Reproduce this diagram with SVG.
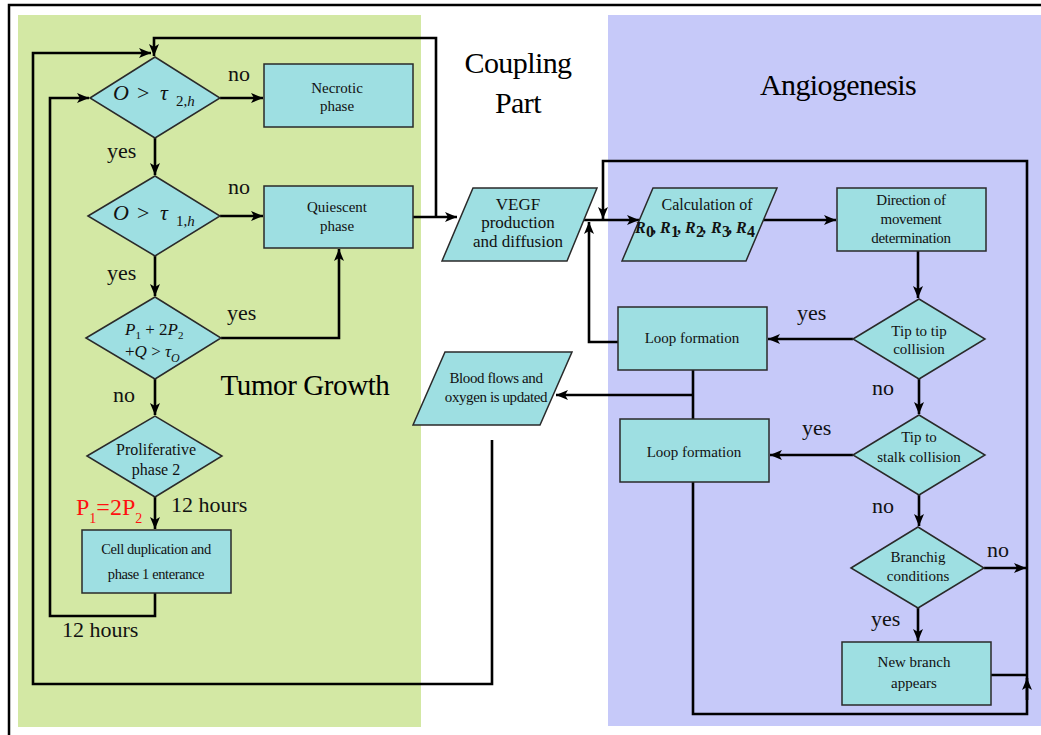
<svg xmlns="http://www.w3.org/2000/svg" width="1041" height="735" viewBox="0 0 1041 735">
<defs>
<style>
.bg{stroke:none}
.box{fill:#9EDFE2;stroke:#2a2a2a;stroke-width:1.5}
.c{fill:none;stroke:#000;stroke-width:2.6}
.t{font-family:"Liberation Serif","Times New Roman",serif;fill:#111;text-anchor:middle}
.bt{font-size:15px}
.lb{font-family:"Liberation Serif","Times New Roman",serif;font-size:22px;fill:#111}
.m{font-family:"Liberation Serif","Times New Roman",serif;fill:#111;font-style:italic}
.h{font-family:"Liberation Serif","Times New Roman",serif;fill:#000;text-anchor:middle}
.r{font-family:"Liberation Serif","Times New Roman",serif;font-size:16px;font-weight:bold;fill:#111}
</style>
<marker id="a" markerUnits="userSpaceOnUse" markerWidth="13" markerHeight="11" refX="12" refY="5" orient="auto">
<path d="M0,0 L12,5 L0,10 L3,5 Z" fill="#000"/>
</marker>
</defs>
<rect width="1041" height="735" fill="#fff"/>
<rect class="bg" x="18" y="15" width="403" height="712" fill="#D3E8A4"/>
<rect class="bg" x="608" y="15" width="433" height="711" fill="#C6C9F9"/>
<rect x="9" y="5" width="1040" height="740" fill="none" stroke="#000" stroke-width="2.5"/>

<g id="headers">
<text class="h" x="518" y="73" font-size="30" letter-spacing="-0.6">Coupling</text>
<text class="h" x="518" y="113" font-size="30" letter-spacing="-0.6">Part</text>
<text class="h" x="838" y="95" font-size="30" letter-spacing="-0.6">Angiogenesis</text>
<text class="h" x="305" y="395" font-size="29" letter-spacing="-0.4">Tumor Growth</text>
</g>

<g id="connectors">
<path class="c" d="M413,217 H457" marker-end="url(#a)"/>
<path class="c" d="M436,217 V38 H154 V56" marker-end="url(#a)"/>
<path class="c" d="M492,440 V684 H33 V53 H151" marker-end="url(#a)"/>
<path class="c" d="M220,98 H263" marker-end="url(#a)"/>
<path class="c" d="M155,138 V175" marker-end="url(#a)"/>
<path class="c" d="M220,216 H263" marker-end="url(#a)"/>
<path class="c" d="M155,256 V296" marker-end="url(#a)"/>
<path class="c" d="M221,338 H339 V249" marker-end="url(#a)"/>
<path class="c" d="M155,379 V415" marker-end="url(#a)"/>
<path class="c" d="M155,497 V529" marker-end="url(#a)"/>
<path class="c" d="M155,593 V616 H50 V98 H89" marker-end="url(#a)"/>
<path class="c" d="M582,220 H639" marker-end="url(#a)"/>
<path class="c" d="M693,482 V714 H1027 V161 H603 V219" marker-end="url(#a)"/>
<path class="c" d="M618,342 H589 V222" marker-end="url(#a)"/>
<path class="c" d="M693,370 V419"/>
<path class="c" d="M693,395 H556" marker-end="url(#a)"/>
<path class="c" d="M763,220 H836" marker-end="url(#a)"/>
<path class="c" d="M918,251 V298" marker-end="url(#a)"/>
<path class="c" d="M853,339 H768" marker-end="url(#a)"/>
<path class="c" d="M919,379 V414" marker-end="url(#a)"/>
<path class="c" d="M853,455 H770" marker-end="url(#a)"/>
<path class="c" d="M919,495 V526" marker-end="url(#a)"/>
<path class="c" d="M984,568 H1026" marker-end="url(#a)"/>
<path class="c" d="M918,608 V641" marker-end="url(#a)"/>
<path class="c" d="M991,675 H1027"/>
<path class="c" d="M1027,700 V678" marker-end="url(#a)"/>
</g>

<g id="labels">
<text class="lb" x="228" y="81">no</text>
<text class="lb" x="107" y="158">yes</text>
<text class="lb" x="228" y="194">no</text>
<text class="lb" x="107" y="280">yes</text>
<text class="lb" x="227" y="320">yes</text>
<text class="lb" x="113" y="402">no</text>
<text class="lb" x="171" y="512" font-size="19.5">12 hours</text>
<text class="lb" x="62" y="637" font-size="19.5">12 hours</text>
<text x="76" y="515" font-family="Liberation Serif, Times New Roman, serif" font-size="24" fill="#FF1010">P<tspan font-size="14" dy="8">1</tspan><tspan dy="-8">=2P</tspan><tspan font-size="14" dy="8">2</tspan></text>
<text class="lb" x="797" y="320">yes</text>
<text class="lb" x="872" y="395">no</text>
<text class="lb" x="802" y="435">yes</text>
<text class="lb" x="872" y="513">no</text>
<text class="lb" x="987" y="557">no</text>
<text class="lb" x="871" y="626">yes</text>
</g>

<g id="d1">
<polygon class="box" points="90,98 155,57 220,98 155,138"/>
<text class="m" y="100" font-size="22"><tspan x="113">O</tspan><tspan x="137" font-style="normal">&gt;</tspan><tspan x="160">τ</tspan><tspan x="176" dy="6" font-size="15"><tspan font-style="normal">2,</tspan>h</tspan></text>
</g>
<g id="d2">
<polygon class="box" points="88,216 155,176 220,216 155,256"/>
<text class="m" y="220" font-size="22"><tspan x="113">O</tspan><tspan x="137" font-style="normal">&gt;</tspan><tspan x="160">τ</tspan><tspan x="176" dy="6" font-size="15"><tspan font-style="normal">1,</tspan>h</tspan></text>
</g>
<g id="d3">
<polygon class="box" points="86,338 155,297 221,338 155,379"/>
<text class="m" y="335" font-size="17"><tspan x="125">P</tspan><tspan dy="4" font-size="11" font-style="normal">1</tspan><tspan dy="-4" font-style="normal"> + 2</tspan>P<tspan dy="4" font-size="11" font-style="normal">2</tspan></text>
<text class="m" y="357" font-size="17"><tspan x="125" font-style="normal">+</tspan>Q<tspan font-style="normal"> &gt; </tspan>τ<tspan dy="5" font-size="12">O</tspan></text>
</g>
<g id="d4">
<polygon class="box" points="87,456 155,416 222,456 155,497"/>
<text class="t" x="156" y="455" font-size="16">Proliferative</text>
<text class="t" x="156" y="475" font-size="16">phase 2</text>
</g>
<g id="necrotic">
<rect class="box" x="264" y="64" width="149" height="63"/>
<text class="t bt" x="337" y="93">Necrotic</text>
<text class="t bt" x="337" y="111">phase</text>
</g>
<g id="quiescent">
<rect class="box" x="264" y="186" width="149" height="62"/>
<text class="t bt" x="337" y="212">Quiescent</text>
<text class="t bt" x="337" y="231">phase</text>
</g>
<g id="cell">
<rect class="box" x="82" y="530" width="149" height="63"/>
<text class="t" x="156" y="554" font-size="14.5" letter-spacing="-0.4">Cell duplication and</text>
<text class="t" x="156" y="579" font-size="14.5" letter-spacing="-0.4">phase 1 enterance</text>
</g>
<g id="vegf">
<polygon class="box" points="473,188 597,188 567,261 442,261"/>
<text class="t" x="518" y="210" font-size="17">VEGF</text>
<text class="t" x="518" y="228" font-size="17">production</text>
<text class="t" x="518" y="247" font-size="17">and diffusion</text>
</g>
<g id="calc">
<polygon class="box" points="653,188 777,188 746,261 622,261"/>
<text class="t" x="707" y="210" font-size="16">Calculation of</text>
<text class="r" x="635" y="233" font-style="italic">R</text>
<text class="r" x="646" y="237" font-size="10">0</text>
<text class="r" x="652" y="233">,</text>
<text class="r" x="660" y="233" font-style="italic">R</text>
<text class="r" x="671" y="237" font-size="10">1</text>
<text class="r" x="677" y="233">,</text>
<text class="r" x="685" y="233" font-style="italic">R</text>
<text class="r" x="696" y="237" font-size="10">2</text>
<text class="r" x="702" y="233">,</text>
<text class="r" x="711" y="233" font-style="italic">R</text>
<text class="r" x="722" y="237" font-size="10">3</text>
<text class="r" x="728" y="233">,</text>
<text class="r" x="736" y="233" font-style="italic">R</text>
<text class="r" x="747" y="237" font-size="10">4</text>
</g>
<g id="blood">
<polygon class="box" points="445,352 572,352 540,425 413,425"/>
<text class="t" x="496" y="383" font-size="15" letter-spacing="-0.4">Blood flows and</text>
<text class="t" x="496" y="402" font-size="15" letter-spacing="-0.4">oxygen is updated</text>
</g>
<g id="loop1">
<rect class="box" x="618" y="307" width="149" height="63"/>
<text class="t bt" x="692" y="343">Loop formation</text>
</g>
<g id="loop2">
<rect class="box" x="620" y="419" width="149" height="63"/>
<text class="t bt" x="694" y="457">Loop formation</text>
</g>
<g id="direction">
<rect class="box" x="837" y="188" width="149" height="63"/>
<text class="t bt" x="911" y="205" letter-spacing="-0.3">Direction of</text>
<text class="t bt" x="911" y="224" letter-spacing="-0.3">movement</text>
<text class="t bt" x="911" y="243" letter-spacing="-0.3">determination</text>
</g>
<g id="tiptip">
<polygon class="box" points="853,339 919,299 985,339 919,379"/>
<text class="t bt" x="919" y="336">Tip to tip</text>
<text class="t bt" x="919" y="354">collision</text>
</g>
<g id="tipstalk">
<polygon class="box" points="853,455 919,415 985,455 919,495"/>
<text class="t bt" x="919" y="442">Tip to</text>
<text class="t bt" x="919" y="462">stalk collision</text>
</g>
<g id="branching">
<polygon class="box" points="851,568 918,527 984,568 918,608"/>
<text class="t bt" x="918" y="562">Branchig</text>
<text class="t bt" x="918" y="581">conditions</text>
</g>
<g id="newbranch">
<rect class="box" x="842" y="642" width="149" height="63"/>
<text class="t bt" x="914" y="667">New branch</text>
<text class="t bt" x="914" y="688">appears</text>
</g>
</svg>
